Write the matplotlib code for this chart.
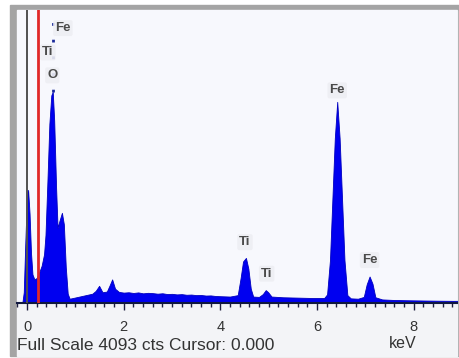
import matplotlib
matplotlib.use("Agg")
import matplotlib.pyplot as plt
from matplotlib.patches import Rectangle
from matplotlib.ticker import MultipleLocator

plt.rcParams['font.family'] = ['Liberation Sans', 'DejaVu Sans']

# spectrum (keV, counts)
energy = [-0.10, -0.07, -0.04, -0.01, 0.02, 0.05, 0.08, 0.11, 0.15, 0.20,
          0.25, 0.30, 0.35, 0.38, 0.42, 0.46, 0.50, 0.53, 0.56, 0.60,
          0.63, 0.67, 0.72, 0.76, 0.80, 0.84, 0.88, 0.95, 1.05, 1.15,
          1.25, 1.35, 1.42, 1.49, 1.56, 1.65, 1.71, 1.76, 1.82, 1.90,
          2.0, 2.1, 2.2, 2.3, 2.4, 2.5, 2.6, 2.7, 2.8, 2.9,
          3.0, 3.1, 3.2, 3.3, 3.4, 3.5, 3.6, 3.7, 3.8, 3.9,
          4.0, 4.2, 4.36, 4.42, 4.47, 4.53, 4.58, 4.63, 4.68, 4.80,
          4.88, 4.94, 4.99, 5.06, 5.3, 5.6, 5.9, 6.15, 6.21, 6.27,
          6.32, 6.37, 6.42, 6.47, 6.52, 6.57, 6.63, 6.70, 6.85, 6.97,
          7.03, 7.09, 7.15, 7.21, 7.35, 7.6, 7.9, 8.2, 8.5, 8.8, 9.1]
counts = [0, 150, 800, 1400, 1580, 1250, 700, 400, 330, 350,
          430, 520, 680, 950, 1700, 2500, 2900, 2950, 2550, 1600,
          1050, 1150, 1260, 1100, 500, 130, 60, 70, 85, 100,
          115, 130, 170, 240, 150, 160, 250, 330, 200, 155,
          145, 150, 140, 148, 135, 142, 138, 130, 136, 125,
          128, 120, 124, 115, 118, 110, 112, 104, 106, 98,
          95, 90, 110, 350, 580, 630, 480, 200, 90, 85,
          125, 180, 150, 90, 80, 75, 70, 70, 120, 600,
          1450, 2300, 2810, 2300, 1450, 600, 110, 65, 60, 85,
          260, 370, 270, 80, 50, 42, 38, 35, 32, 30, 30]

full_scale = 4093
cursor_kev = 0.23
marker_kev = 0.53

labels = ['Fe', 'Ti', 'O', 'Ti', 'Ti', 'Fe', 'Fe']
label_x = [0.74, 0.43, 0.52, 4.51, 4.96, 6.42, 7.09]
label_y = [3840, 3500, 3180, 850, 410, 2970, 600]

W, H = 459, 358
fig = plt.figure(figsize=(W / 100, H / 100), dpi=100)

def fx(px):
    return px / W

def fy(py):
    return 1 - py / H

# gray frame and light panel
fig.patches.append(Rectangle((fx(10), fy(356)), fx(449), 351 / H,
                             transform=fig.transFigure, color='#a4a4a4', zorder=-10))
fig.patches.append(Rectangle((fx(17), fy(356)), fx(440), 346 / H,
                             transform=fig.transFigure, color='#f3f4f7', zorder=-9))

ax = fig.add_axes([fx(17), fy(303), fx(440), 293 / H])
ax.set_facecolor('#f7f8fd')

ax.fill_between(energy, counts, 0, color='#0000f0', linewidth=0.6,
                edgecolor='#0000c0', zorder=2)

ax.axvline(0, color='#505050', linewidth=1.4, zorder=3)
ax.axvline(cursor_kev, color='#e02828', linewidth=2, zorder=4)
ax.plot([marker_kev, marker_kev], [2950, full_scale], color='#1a2a9a',
        linestyle=(0, (1, 5)), linewidth=2, zorder=3)

for t, x, y in zip(labels, label_x, label_y):
    ax.text(x, y, t, ha='center', va='center', fontsize=9.5, color='#4a4a4a',
            fontweight='bold', zorder=5,
            bbox=dict(boxstyle='round,pad=0.15', fc='#eeeef3', ec='none', alpha=0.9))

ax.set_xlim(-0.21, 8.9)
ax.set_ylim(0, full_scale)

for s in ['top', 'right', 'left']:
    ax.spines[s].set_visible(False)
ax.spines['bottom'].set_color('#101840')
ax.spines['bottom'].set_linewidth(1.5)
ax.set_yticks([])
ax.xaxis.set_major_locator(MultipleLocator(2))
ax.xaxis.set_minor_locator(MultipleLocator(0.2))
ax.tick_params(axis='x', which='major', length=5, width=1, color='#202040',
               labelsize=10.5, labelcolor='#333333', pad=7)
ax.tick_params(axis='x', which='minor', length=3, width=1, color='#202040')

fig.text(fx(17), fy(345), 'Full Scale 4093 cts Cursor: 0.000', ha='left',
         va='center', fontsize=12.5, color='#333333')
fig.text(fx(403), fy(344), 'keV', ha='center', va='center', fontsize=11.5,
         color='#333333')

fig.savefig('out.png', dpi=100)
